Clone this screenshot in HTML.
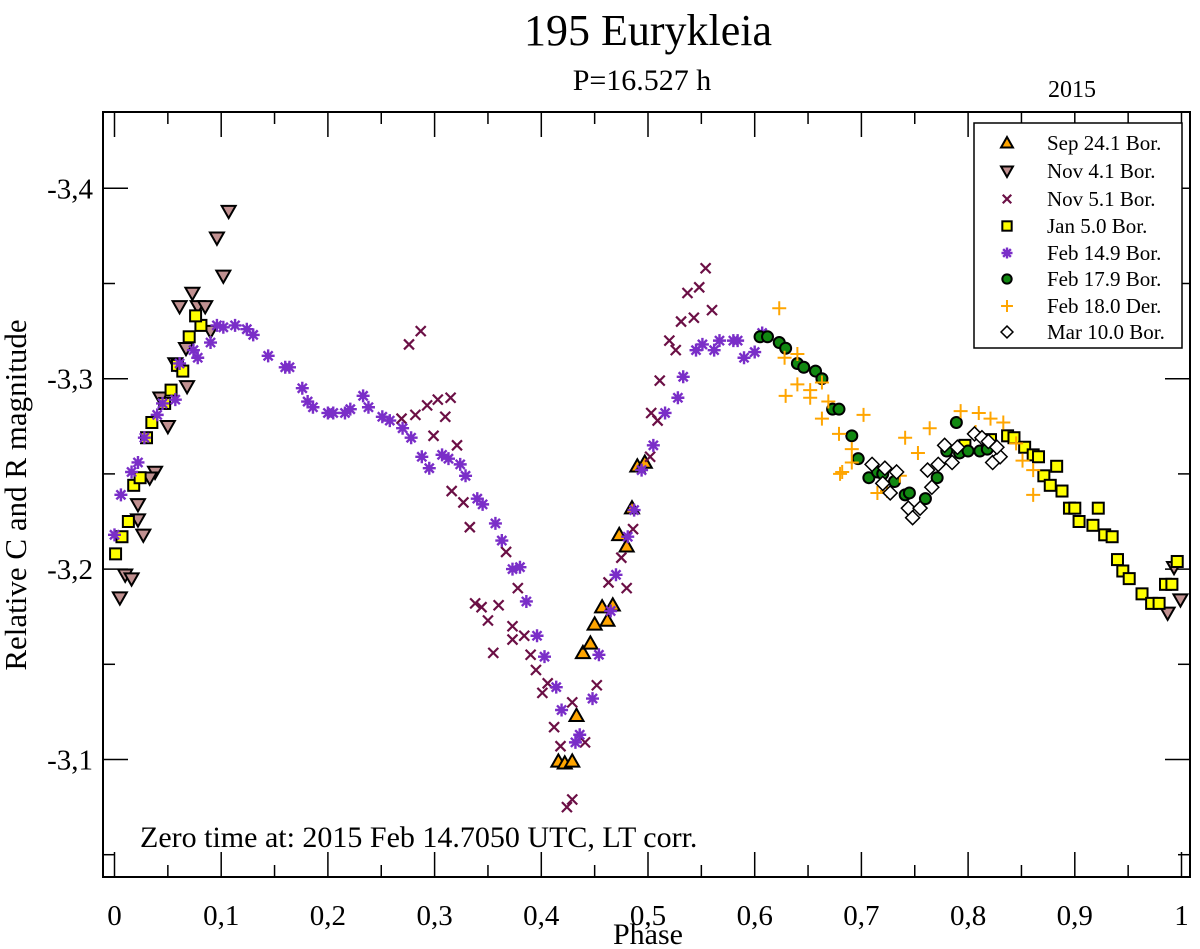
<!DOCTYPE html>
<html><head><meta charset="utf-8"><style>
html,body{margin:0;padding:0;background:#fff}
svg{display:block;font-family:"Liberation Serif",serif}
</style></head><body>
<svg id="chart" width="1200" height="949" viewBox="0 0 1200 949">
<text x="648" y="45" font-size="44" text-anchor="middle">195 Eurykleia</text>
<text x="642" y="90" font-size="30" text-anchor="middle">P=16.527 h</text>
<text x="1072" y="97" font-size="24" text-anchor="middle">2015</text>
<rect x="103" y="112" width="1087" height="765" fill="none" stroke="#000" stroke-width="2"/>
<g id="ticks"></g>
<g id="marks"></g>
<text x="140" y="847" font-size="30">Zero time at: 2015 Feb 14.7050 UTC, LT corr.</text>
<text x="648" y="944" font-size="30" text-anchor="middle">Phase</text>
<text x="0" y="0" font-size="31" text-anchor="middle" transform="translate(26,495) rotate(-90)">Relative C and R magnitude</text>
<g>
<rect x="974" y="123" width="208" height="225" fill="#fff" stroke="#000" stroke-width="1.5"/>
<g id="legend"></g>
</g>
</svg>
<script>
const xTicks=[0,0.1,0.2,0.3,0.4,0.5,0.6,0.7,0.8,0.9,1];
const xTickLabels=["0","0,1","0,2","0,3","0,4","0,5","0,6","0,7","0,8","0,9","1"];
const yTicks=[-3.4,-3.3,-3.2,-3.1];
const yTickLabels=["-3,4","-3,3","-3,2","-3,1"];
const seriesNames=["Sep 24.1 Bor.","Nov 4.1 Bor.","Nov 5.1 Bor.","Jan 5.0 Bor.","Feb 14.9 Bor.","Feb 17.9 Bor.","Feb 18.0 Der.","Mar 10.0 Bor."];

const sepPhase=[0.416,0.422,0.429,0.433,0.439,0.446,0.450,0.457,0.462,0.467,0.473,0.480,0.485,0.490,0.497];
const sepMag=[-3.099,-3.098,-3.099,-3.123,-3.156,-3.161,-3.171,-3.180,-3.173,-3.181,-3.218,-3.212,-3.232,-3.254,-3.256];

const nov4Phase=[0.107,0.096,0.102,0.073,0.061,0.078,0.085,0.090,0.067,0.057,0.068,0.043,0.050,0.038,0.033,0.022,0.022,0.027,0.010,0.016,0.005,0.987,0.993,0.999];
const nov4Mag=[-3.388,-3.374,-3.354,-3.345,-3.338,-3.338,-3.338,-3.325,-3.316,-3.308,-3.296,-3.290,-3.275,-3.251,-3.248,-3.234,-3.226,-3.218,-3.197,-3.195,-3.185,-3.177,-3.201,-3.184];

const nov5Phase=[0.276,0.287,0.269,0.282,0.293,0.303,0.315,0.310,0.299,0.321,0.316,0.327,0.333,0.338,0.344,0.360,0.350,0.355,0.367,0.378,0.373,0.384,0.373,0.390,0.395,0.406,0.401,0.429,0.412,0.418,0.441,0.452,0.480,0.475,0.463,0.486,0.503,0.509,0.511,0.429,0.424,0.554,0.537,0.548,0.531,0.543,0.560,0.520,0.526,0.502];
const nov5Mag=[-3.318,-3.325,-3.279,-3.281,-3.286,-3.289,-3.290,-3.280,-3.270,-3.265,-3.241,-3.235,-3.222,-3.182,-3.180,-3.181,-3.173,-3.156,-3.209,-3.190,-3.170,-3.165,-3.163,-3.155,-3.147,-3.140,-3.135,-3.130,-3.117,-3.107,-3.109,-3.139,-3.190,-3.206,-3.193,-3.221,-3.282,-3.278,-3.299,-3.079,-3.075,-3.358,-3.345,-3.348,-3.330,-3.332,-3.336,-3.320,-3.315,-3.259];

const janPhase=[0.001,0.007,0.013,0.018,0.024,0.030,0.035,0.047,0.053,0.059,0.064,0.070,0.081,0.076,0.797,0.821,0.837,0.843,0.853,0.861,0.866,0.883,0.871,0.877,0.888,0.895,0.900,0.922,0.904,0.917,0.928,0.935,0.940,0.945,0.951,0.963,0.972,0.979,0.985,0.991,0.996];
const janMag=[-3.208,-3.217,-3.225,-3.244,-3.248,-3.269,-3.277,-3.287,-3.294,-3.307,-3.304,-3.322,-3.328,-3.333,-3.265,-3.268,-3.270,-3.269,-3.264,-3.260,-3.259,-3.254,-3.249,-3.244,-3.241,-3.232,-3.232,-3.232,-3.225,-3.223,-3.218,-3.217,-3.205,-3.199,-3.195,-3.187,-3.182,-3.182,-3.192,-3.192,-3.204];

const feb14Phase=[0.000,0.006,0.016,0.022,0.028,0.040,0.045,0.057,0.061,0.074,0.078,0.090,0.096,0.102,0.113,0.124,0.130,0.144,0.160,0.164,0.176,0.181,0.186,0.200,0.205,0.216,0.221,0.233,0.238,0.251,0.258,0.270,0.278,0.288,0.295,0.307,0.313,0.324,0.329,0.340,0.345,0.357,0.363,0.373,0.380,0.386,0.396,0.403,0.414,0.419,0.432,0.436,0.448,0.454,0.465,0.470,0.481,0.487,0.494,0.505,0.516,0.528,0.533,0.545,0.551,0.562,0.567,0.580,0.584,0.590,0.600,0.607];
const feb14Mag=[-3.218,-3.239,-3.251,-3.256,-3.269,-3.281,-3.287,-3.289,-3.308,-3.315,-3.311,-3.319,-3.328,-3.327,-3.328,-3.326,-3.323,-3.312,-3.306,-3.306,-3.295,-3.288,-3.285,-3.282,-3.282,-3.282,-3.284,-3.291,-3.285,-3.280,-3.278,-3.274,-3.269,-3.259,-3.253,-3.260,-3.258,-3.255,-3.249,-3.237,-3.234,-3.224,-3.215,-3.200,-3.201,-3.183,-3.165,-3.154,-3.138,-3.126,-3.109,-3.113,-3.132,-3.155,-3.178,-3.197,-3.217,-3.231,-3.252,-3.265,-3.282,-3.290,-3.301,-3.315,-3.318,-3.315,-3.320,-3.320,-3.320,-3.311,-3.314,-3.324];

const feb17Phase=[0.605,0.612,0.623,0.629,0.640,0.646,0.657,0.663,0.673,0.679,0.691,0.697,0.707,0.715,0.720,0.731,0.741,0.745,0.760,0.771,0.780,0.789,0.792,0.800,0.811,0.818];
const feb17Mag=[-3.322,-3.322,-3.319,-3.316,-3.308,-3.306,-3.304,-3.300,-3.284,-3.284,-3.270,-3.258,-3.248,-3.251,-3.250,-3.246,-3.239,-3.240,-3.237,-3.248,-3.262,-3.277,-3.261,-3.262,-3.262,-3.263];

const feb18Phase=[0.623,0.628,0.640,0.640,0.652,0.652,0.629,0.663,0.669,0.663,0.702,0.679,0.691,0.691,0.680,0.715,0.741,0.753,0.764,0.793,0.810,0.821,0.833,0.807,0.845,0.851,0.861,0.861,0.682,0.724,0.736];
const feb18Mag=[-3.337,-3.311,-3.313,-3.297,-3.294,-3.290,-3.291,-3.298,-3.288,-3.279,-3.281,-3.271,-3.263,-3.256,-3.250,-3.240,-3.269,-3.261,-3.274,-3.283,-3.282,-3.279,-3.277,-3.272,-3.266,-3.257,-3.252,-3.239,-3.251,-3.241,-3.249];

const mar10Phase=[0.710,0.722,0.733,0.727,0.720,0.744,0.748,0.755,0.762,0.766,0.772,0.778,0.785,0.790,0.806,0.813,0.819,0.823,0.830,0.827];
const mar10Mag=[-3.255,-3.253,-3.251,-3.240,-3.245,-3.232,-3.227,-3.232,-3.252,-3.243,-3.255,-3.265,-3.256,-3.264,-3.271,-3.269,-3.267,-3.256,-3.259,-3.264];

const NS="http://www.w3.org/2000/svg";
function xScale(p){return 114.5+1067*p;}
function yScale(m){return 378.7+(m+3.3)*1904;}
function mk(tag,attrs,parent){const e=document.createElementNS(NS,tag);for(const k in attrs)e.setAttribute(k,attrs[k]);parent.appendChild(e);return e;}

const ticks=document.getElementById('ticks');
for(let i=0;i<=20;i++){
  const p=i*0.05, x=xScale(p), L=(i%2===0)?25:12;
  const a=mk('line',{x1:x,x2:x,y1:877,y2:877-L,stroke:'#000','stroke-width':1.5},ticks);
  
  
  const b=mk('line',{x1:x,x2:x,y1:112,y2:112+L,stroke:'#000','stroke-width':1.5},ticks);
  
  
}
xTicks.forEach((t,i)=>{
  const tx=mk('text',{x:xScale(t),y:925,'font-size':29,'text-anchor':'middle'},ticks);
  tx.textContent=xTickLabels[i];
  
  
});
for(let m=-3.45;m<=-3.04;m+=0.05){
  const y=yScale(m); if(y<112||y>877)continue;
  const major=Math.abs(Math.round(m*10)-m*10)<0.01;
  const L=major?25:12;
  const a=mk('line',{x1:103,x2:103+L,y1:y,y2:y,stroke:'#000','stroke-width':1.5},ticks);
  
  
  const b=mk('line',{x1:1190,x2:1190-L,y1:y,y2:y,stroke:'#000','stroke-width':1.5},ticks);
  
  
}
yTicks.forEach((t,i)=>{
  const tx=mk('text',{x:93,y:yScale(t)+10,'font-size':29,'text-anchor':'end'},ticks);
  tx.textContent=yTickLabels[i];
  
  
});

function marker(type,x,y,parent,s){
  s=s||1;
  if(type===0){const h=7*s;return mk('polygon',{points:`${x},${y-h} ${x-h},${y+h*0.75} ${x+h},${y+h*0.75}`,fill:'#ffa500',stroke:'#000','stroke-width':2},parent);}
  if(type===1){const h=7*s;return mk('polygon',{points:`${x},${y+h} ${x-h},${y-h*0.75} ${x+h},${y-h*0.75}`,fill:'#c09090',stroke:'#000','stroke-width':2},parent);}
  if(type===2){const h=5*s;return mk('path',{d:`M${x-h},${y-h}L${x+h},${y+h}M${x-h},${y+h}L${x+h},${y-h}`,stroke:'#6b0f45','stroke-width':2.2,fill:'none'},parent);}
  if(type===3){const h=5.5*s;return mk('rect',{x:x-h,y:y-h,width:2*h,height:2*h,fill:'#ffff00',stroke:'#000','stroke-width':2},parent);}
  if(type===4){const h=6.5*s;return mk('path',{d:`M${x-h},${y}L${x+h},${y}M${x},${y-h}L${x},${y+h}M${x-h*0.7},${y-h*0.7}L${x+h*0.7},${y+h*0.7}M${x-h*0.7},${y+h*0.7}L${x+h*0.7},${y-h*0.7}`,stroke:'#7a2ec8','stroke-width':2.4,fill:'none'},parent);}
  if(type===5){return mk('circle',{cx:x,cy:y,r:5.5*s,fill:'#118811',stroke:'#000','stroke-width':2},parent);}
  if(type===6){const h=7*s;return mk('path',{d:`M${x-h},${y}L${x+h},${y}M${x},${y-h}L${x},${y+h}`,stroke:'#ffa500','stroke-width':2,fill:'none'},parent);}
  if(type===7){const h=7*s;return mk('polygon',{points:`${x},${y-h} ${x+h},${y} ${x},${y+h} ${x-h},${y}`,fill:'#fff',stroke:'#000','stroke-width':1.5},parent);}
}
const seriesPhases=[sepPhase,nov4Phase,nov5Phase,janPhase,feb14Phase,feb17Phase,feb18Phase,mar10Phase];
const seriesMags=[sepMag,nov4Mag,nov5Mag,janMag,feb14Mag,feb17Mag,feb18Mag,mar10Mag];
const marks=document.getElementById('marks');
seriesPhases.forEach((ph,si)=>{
  const g=mk('g',{},marks);
  
  
  ph.forEach((p,i)=>{
    const e=marker(si,xScale(p),yScale(seriesMags[si][i]),g);
    
    
  });
});
const leg=document.getElementById('legend');
const legRows=[143,171,199,226,253,279,306,332];
seriesNames.forEach((n,i)=>{
  const y=legRows[i];
  const e=marker(i,1007,y,leg,0.85);
  
  
  const t=mk('text',{x:1047,y:y+7,'font-size':21},leg);
  t.textContent=n;
  
  
});
</script>
</body></html>
